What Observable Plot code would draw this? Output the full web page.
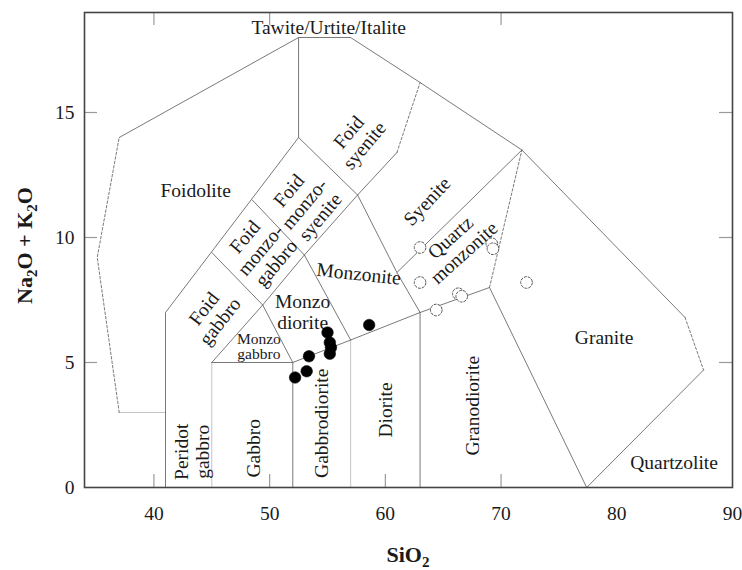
<!DOCTYPE html>
<html><head><meta charset="utf-8">
<script src="https://cdn.jsdelivr.net/npm/d3@7"></script>
<script src="https://cdn.jsdelivr.net/npm/@observablehq/plot@0.6"></script>
<style>html,body{margin:0;padding:0;background:#fff} svg{display:block}</style>
</head><body><div id="chart"></div>
<script>
// ---- axis ticks ----
const xTickLabels = [40, 50, 60, 70, 80, 90];
const yTickLabels = [0, 5, 10, 15];
const bottomTickMarks = [40, 50, 60, 70];
const topTickMarks = [40, 50, 70];
const sideTickMarks = [5, 10, 15];

// ---- field boundaries (SiO2, Na2O+K2O) ----
const solidLines = [
  [[37, 14], [52.5, 18], [57, 18], [63, 16.2], [71.8, 13.5], [85.9, 6.8]],
  [[87.5, 4.7], [77.4, 0], [69, 8]],
  [[41, 0], [41, 7], [52.5, 14]],
  [[52.5, 14], [52.5, 18]],
  [[52.5, 14], [57.6, 11.7], [61, 13.4]],
  [[45, 9.4], [49.4, 7.3]],
  [[48.5, 11.5], [53, 9.3]],
  [[45, 5], [52, 5], [57, 5.9], [63, 7], [69, 8]],
  [[45, 5], [49.4, 7.3], [53, 9.3], [57.6, 11.7]],
  [[49.4, 7.3], [52, 5]],
  [[53, 9.3], [57, 5.9]],
  [[57.6, 11.7], [61, 8.6], [63, 7]],
  [[61, 8.6], [71.8, 13.5]],
  [[52, 0], [52, 5]],
  [[63, 0], [63, 7]]
];
const dashedLines = [
  [[37, 3], [35.1, 9.2], [37, 14]],
  [[85.9, 6.8], [87.5, 4.7]],
  [[69, 8], [71.8, 13.5]],
  [[61, 13.4], [63, 16.2]]
];
const faintLines = [
  [[37, 3], [41, 3]],
  [[45, 0], [45, 5]],
  [[57, 0], [57, 5.9]]
];

// ---- samples ----
const filledSiO2 = [52.2, 53.2, 53.4, 55.0, 55.2, 55.3, 55.2, 58.6];
const filledAlk  = [4.4, 4.65, 5.25, 6.2, 5.8, 5.6, 5.35, 6.5];
const openSiO2 = [63.0, 63.0, 64.4, 66.3, 66.6, 69.2, 69.3, 72.2];
const openAlk  = [9.6, 8.2, 7.1, 7.75, 7.65, 9.75, 9.55, 8.2];

// ---- field names ----
const fieldNames = ["Tawite/Urtite/Italite", "Foidolite", "Foid\nsyenite", "Foid\nmonzo-\nsyenite",
  "Foid\nmonzo-\ngabbro", "Foid\ngabbro", "Monzo\ndiorite", "Monzonite", "Syenite", "Quartz\nmonzonite",
  "Granite", "Quartzolite", "Granodiorite", "Diorite", "Gabbrodiorite", "Gabbro", "Peridot\ngabbro"];
const fieldSiO2 = [55.1, 43.6, 57.5, 53.0, 49.2, 45.0, 52.85, 57.7, 63.6, 66.2, 78.9, 84.95, 67.5, 60.05, 54.45, 48.6, 43.3];
const fieldAlk  = [18.4, 11.87, 13.95, 11.35, 9.5, 6.9, 7.03, 8.55, 11.45, 9.7, 5.99, 0.99, 3.27, 3.1, 2.57, 1.57, 1.43];
const fieldAngle = [0, 0, -50, -50, -50, -52, 0, 6, -47, -42, 0, 0, -90, -90, -90, -90, -90];
const smallName = ["Monzo\ngabbro"];
const smallSiO2 = [49.07];
const smallAlk = [5.63];

// ---- build tables ----
const toRows = (lines) => lines.flatMap((pts, i) => pts.map(([x, y]) => ({x, y, id: i})));
const solidRows = toRows(solidLines);
const dashedRows = toRows(dashedLines);
const faintRows = toRows(faintLines);
const filled = filledSiO2.map((x, i) => ({x, y: filledAlk[i]}));
const open = openSiO2.map((x, i) => ({x, y: openAlk[i]}));
const fields = fieldNames.map((name, i) => ({name, x: fieldSiO2[i], y: fieldAlk[i], a: fieldAngle[i]}));
const small = smallName.map((name, i) => ({name, x: smallSiO2[i], y: smallAlk[i]}));

const W = 742, H = 570, mL = 84, mR = 10, mT = 12, mB = 83;
const innerW = W - mL - mR, innerH = H - mT - mB, tk = 13;
const serif = "'Liberation Serif', 'Times New Roman', serif";

const plot = Plot.plot({
  width: W, height: H,
  marginLeft: mL, marginRight: mR, marginTop: mT, marginBottom: mB,
  x: {domain: [34, 90]},
  y: {domain: [0, 19]},
  style: {fontFamily: serif, fontSize: "19.5px", color: "#1a1a1a", background: "#fff"},
  marks: [
    Plot.line(faintRows, {x: "x", y: "y", z: "id", stroke: "#c4c4c4", strokeWidth: 1}),
    Plot.line(solidRows, {x: "x", y: "y", z: "id", stroke: "#6a6a6a", strokeWidth: 0.9}),
    Plot.line(dashedRows, {x: "x", y: "y", z: "id", stroke: "#6a6a6a", strokeWidth: 0.9, strokeDasharray: "2.5,2"}),
    Plot.tickX(bottomTickMarks, {x: d => d, insetTop: innerH - tk, stroke: "#9a9a9a", strokeWidth: 1.2}),
    Plot.tickX(topTickMarks, {x: d => d, insetBottom: innerH - tk, stroke: "#9a9a9a", strokeWidth: 1.2}),
    Plot.tickY(sideTickMarks, {y: d => d, insetRight: innerW - tk, stroke: "#9a9a9a", strokeWidth: 1.2}),
    Plot.tickY(sideTickMarks, {y: d => d, insetLeft: innerW - tk, stroke: "#9a9a9a", strokeWidth: 1.2}),
    Plot.text(fields, {x: "x", y: "y", text: "name", rotate: "a", fontSize: 19.5, lineHeight: 1.05, fill: "#1a1a1a", fontFamily: serif}),
    Plot.text(small, {x: "x", y: "y", text: "name", fontSize: 15.5, lineHeight: 1.0, fill: "#1a1a1a", fontFamily: serif}),
    Plot.dot(open, {x: "x", y: "y", r: 5.8, fill: "#fff", stroke: "#555", strokeWidth: 1, strokeDasharray: "3,1"}),
    Plot.dot(filled, {x: "x", y: "y", r: 5.8, fill: "#000", stroke: "#000", strokeWidth: 0.5}),
    Plot.axisX(xTickLabels, {tickSize: 0, tickPadding: 19, label: null, fontSize: 19.5, fill: "#1a1a1a"}),
    Plot.axisY(yTickLabels, {tickSize: 0, tickPadding: 10, label: null, fontSize: 19.5, fill: "#1a1a1a"}),
    Plot.frame({stroke: "#444", strokeWidth: 1.6})
  ]
});
document.getElementById("chart").appendChild(plot);

// axis titles with subscripts
const svg = d3.select(plot);
const tx = svg.append("text")
  .attr("x", mL + innerW / 2).attr("y", 562)
  .attr("text-anchor", "middle")
  .attr("font-family", serif).attr("font-weight", "bold").attr("font-size", 22).attr("fill", "#1a1a1a");
tx.append("tspan").text("SiO");
tx.append("tspan").attr("font-size", 15).attr("dy", 5).text("2");

const ty = svg.append("text")
  .attr("transform", `translate(32,${mT + innerH / 2 - 4}) rotate(-90)`)
  .attr("text-anchor", "middle")
  .attr("font-family", serif).attr("font-weight", "bold").attr("font-size", 22).attr("fill", "#1a1a1a");
ty.append("tspan").text("Na");
ty.append("tspan").attr("font-size", 15).attr("dy", 5).text("2");
ty.append("tspan").attr("dy", -5).text("O + K");
ty.append("tspan").attr("font-size", 15).attr("dy", 5).text("2");
ty.append("tspan").attr("dy", -5).text("O");
</script>
</body></html>
